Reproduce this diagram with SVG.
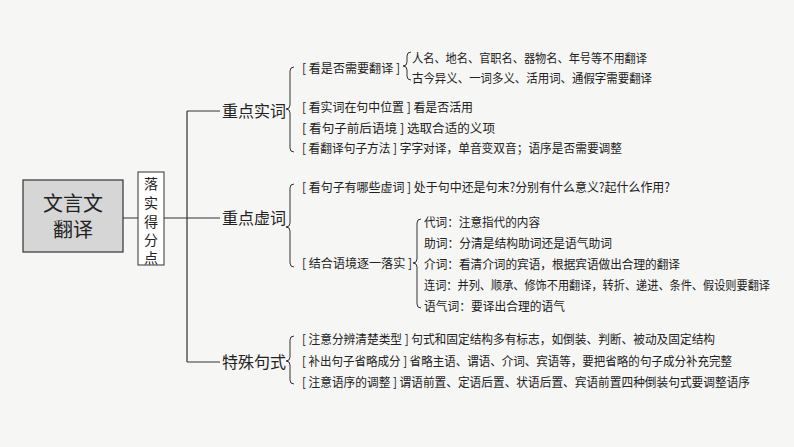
<svg xmlns="http://www.w3.org/2000/svg" width="794" height="447" viewBox="0 0 794 447">
<style>
.t{font-family:"Noto Sans CJK SC","Noto Sans",sans-serif;fill:#222;font-size:12.5px}
.h{font-family:"Noto Sans CJK SC",sans-serif;fill:#222;font-size:16px}
.b{fill:none;stroke:#333;stroke-width:1}
.l{fill:none;stroke:#333;stroke-width:1.2}
</style>
<rect width="794" height="447" fill="#f6f6f4"/>
<g id="root">
<rect x="23" y="180" width="100" height="72" fill="#d6d6d6" stroke="#333" stroke-width="1.2"/>
<text text-anchor="middle" font-family="Noto Sans CJK SC,sans-serif" font-size="20" fill="#222"><tspan x="73" y="211">文言文</tspan><tspan x="73" y="237">翻译</tspan></text>
</g>
<g id="score">
<rect x="138" y="172" width="26" height="93" fill="#fff" stroke="#333" stroke-width="1"/>
<text font-family="Noto Sans CJK SC,sans-serif" font-size="14" fill="#222" text-anchor="middle"><tspan x="151" y="189">落</tspan><tspan x="151" y="208">实</tspan><tspan x="151" y="227">得</tspan><tspan x="151" y="245">分</tspan><tspan x="151" y="263">点</tspan></text>
</g>
<g id="connectors">
<path class="l" d="M123 218H138M164 218H187M187 111V362M187 111H220M187 218H220M187 362H220"/>
<path class="b" d="M294 67Q290 67 290 71V105Q290 109 286 109Q290 109 290 113V148Q290 152 294 152"/>
<path class="b" d="M411 52Q407 52 407 56V62Q407 66 403 66Q407 66 407 70V76Q407 80 411 80"/>
<path class="b" d="M294 184Q290 184 290 188V223Q290 227 286 227Q290 227 290 231V263Q290 267 294 267"/>
<path class="b" d="M421 219Q417 219 417 223V259Q417 263 413 263Q417 263 417 267V304Q417 308 421 308"/>
<path class="b" d="M294 336Q290 336 290 340V357Q290 361 286 361Q290 361 290 365V380Q290 384 294 384"/>
</g>
<g id="n1"><text class="h" x="222" y="117">重点实词</text>
<text class="t" x="302" y="73" textLength="98" lengthAdjust="spacingAndGlyphs">[ 看是否需要翻译 ]</text>
<text class="t" x="412" y="63" textLength="235" lengthAdjust="spacingAndGlyphs">人名、地名、官职名、器物名、年号等不用翻译</text>
<text class="t" x="412" y="83" textLength="240" lengthAdjust="spacingAndGlyphs">古今异义、一词多义、活用词、通假字需要翻译</text>
<text class="t" x="302" y="112" textLength="171" lengthAdjust="spacingAndGlyphs">[ 看实词在句中位置 ] 看是否活用</text>
<text class="t" x="302" y="133" textLength="193" lengthAdjust="spacingAndGlyphs">[ 看句子前后语境 ] 选取合适的义项</text>
<text class="t" x="302" y="153" textLength="320" lengthAdjust="spacingAndGlyphs">[ 看翻译句子方法 ] 字字对译，单音变双音；语序是否需要调整</text>
</g>
<g id="n2"><text class="h" x="222" y="224">重点虚词</text>
<text class="t" x="302" y="192" textLength="368" lengthAdjust="spacingAndGlyphs">[ 看句子有哪些虚词 ] 处于句中还是句末?分别有什么意义?起什么作用?</text>
<text class="t" x="302" y="268" textLength="110" lengthAdjust="spacingAndGlyphs">[ 结合语境逐一落实 ]</text>
<text class="t" x="424" y="227" textLength="116" lengthAdjust="spacingAndGlyphs">代词：注意指代的内容</text>
<text class="t" x="424" y="248" textLength="188" lengthAdjust="spacingAndGlyphs">助词：分清是结构助词还是语气助词</text>
<text class="t" x="424" y="269" textLength="256" lengthAdjust="spacingAndGlyphs">介词：看清介词的宾语，根据宾语做出合理的翻译</text>
<text class="t" x="424" y="290" textLength="346" lengthAdjust="spacingAndGlyphs">连词：并列、顺承、修饰不用翻译，转折、递进、条件、假设则要翻译</text>
<text class="t" x="424" y="311" textLength="141" lengthAdjust="spacingAndGlyphs">语气词：要译出合理的语气</text>
</g>
<g id="n3"><text class="h" x="222" y="368">特殊句式</text>
<text class="t" x="302" y="344" textLength="413" lengthAdjust="spacingAndGlyphs">[ 注意分辨清楚类型 ] 句式和固定结构多有标志，如倒装、判断、被动及固定结构</text>
<text class="t" x="302" y="366" textLength="430" lengthAdjust="spacingAndGlyphs">[ 补出句子省略成分 ] 省略主语、谓语、介词、宾语等，要把省略的句子成分补充完整</text>
<text class="t" x="302" y="387" textLength="448" lengthAdjust="spacingAndGlyphs">[ 注意语序的调整 ] 谓语前置、定语后置、状语后置、宾语前置四种倒装句式要调整语序</text>
</g>
</svg>
